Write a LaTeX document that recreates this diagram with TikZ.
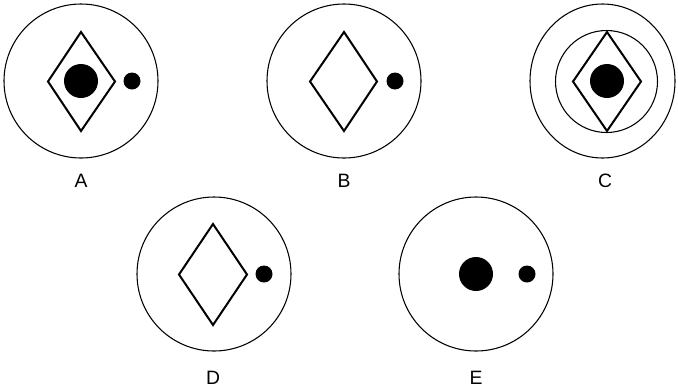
\documentclass[tikz,border=0pt]{standalone}
\usepackage{fontspec}
\setmainfont{Liberation Sans}
\begin{document}
\begin{tikzpicture}[x=0.75pt,y=-0.75pt,
  ring/.style={draw=black,line width=0.8pt},
  rhomb/.style={draw=black,line width=1.5pt,line join=miter},
  bigdot/.style={fill=black},
  lab/.style={font=\fontsize{14.5}{16}\selectfont,anchor=center,inner sep=0pt}]
\useasboundingbox (0,0) rectangle (678,390);
% A
\draw[ring] (81,81) circle[radius=77];
\draw[rhomb] (81,32) -- (115,81.5) -- (81,131) -- (48,81.5) -- cycle;
\fill[bigdot] (81,81) circle[radius=17];
\fill[bigdot] (132,81) circle[radius=8.5];
\node[lab] (la) at (81,181) {A};
% B
\draw[ring] (344,81) circle[radius=77];
\draw[rhomb] (344,32) -- (377,81.5) -- (344,131) -- (310,81.5) -- cycle;
\fill[bigdot] (395,81) circle[radius=8.5];
\node[lab] (lb) at (344,181) {B};
% C
\draw[ring] (602.5,81) ellipse[x radius=72.5,y radius=77];
\draw[ring] (606.5,81.5) circle[radius=51];
\draw[rhomb] (607,32) -- (641,81.5) -- (607,131) -- (573,81.5) -- cycle;
\fill[bigdot] (607,81) circle[radius=17];
\node[lab] (lc) at (605,181) {C};
% D
\draw[ring] (214,274) circle[radius=77];
\draw[rhomb] (213,224) -- (247,274.5) -- (213,325) -- (179,274.5) -- cycle;
\fill[bigdot] (264,274) circle[radius=8.5];
\node[lab] (ld) at (213,378) {D};
% E
\draw[ring] (476,274) circle[radius=77];
\fill[bigdot] (476,274) circle[radius=17];
\fill[bigdot] (527,274) circle[radius=8.5];
\node[lab] (le) at (476,378) {E};
\end{tikzpicture}
\end{document}
